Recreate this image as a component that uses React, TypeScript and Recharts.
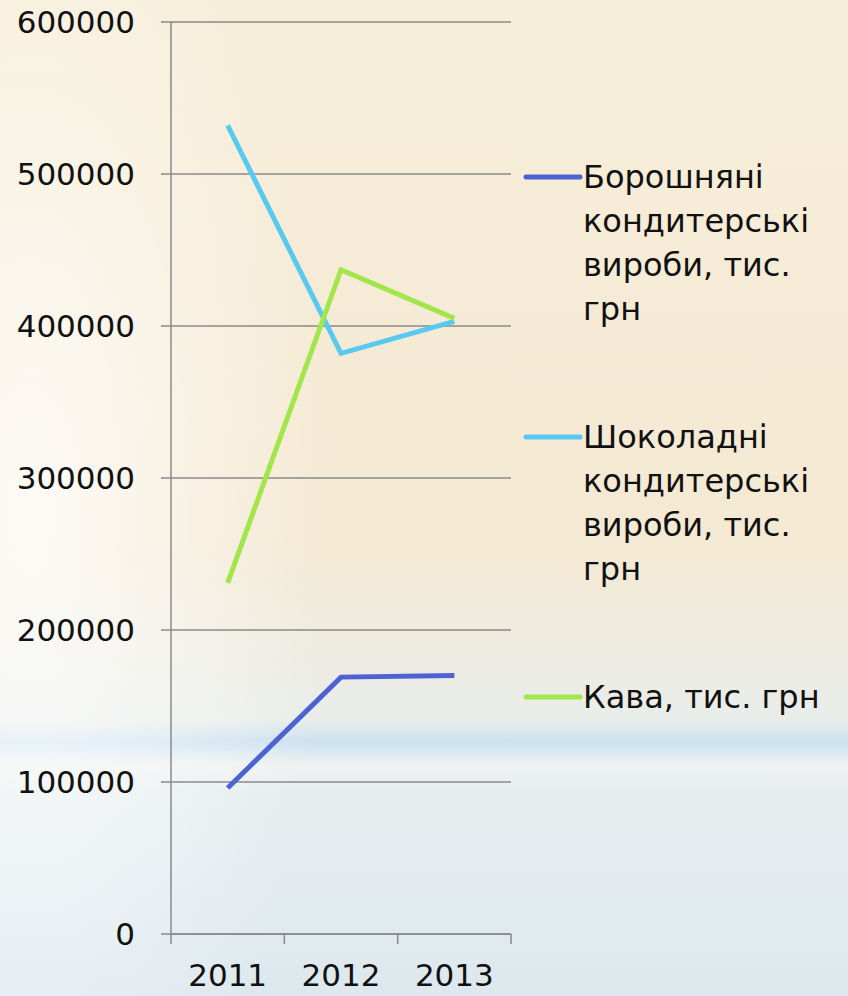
import { LineChart, Line, XAxis, YAxis, CartesianGrid } from 'recharts';

const years = ['2011', '2012', '2013'];
const flour = [96000, 169000, 170000];
const chocolate = [532000, 382000, 403000];
const coffee = [231000, 437000, 405000];
const yTicks = [0, 100000, 200000, 300000, 400000, 500000, 600000];

const series = [
  { key: 'flour', name: 'Борошняні кондитерські вироби, тис. грн', color: '#4d62d3' },
  { key: 'chocolate', name: 'Шоколадні кондитерські вироби, тис. грн', color: '#58c9f1' },
  { key: 'coffee', name: 'Кава, тис. грн', color: '#a3e64b' },
];

const data = years.map((year, i) => ({
  pos: i + 0.5,
  year,
  flour: flour[i],
  chocolate: chocolate[i],
  coffee: coffee[i],
}));

const font = '"DejaVu Sans", sans-serif';

function LegendBox() {
  return (
    <div
      style={{
        position: 'absolute',
        left: 521,
        top: 155,
        width: 327,
        fontFamily: font,
        fontSize: 32,
        color: '#111',
        lineHeight: '44px',
      }}
    >
      {series.map((s) => (
        <div key={s.key} style={{ display: 'flex', alignItems: 'flex-start', height: 260 }}>
          <svg width={62} height={44} style={{ flex: 'none' }}>
            <line x1={5} y1={22} x2={59} y2={22} stroke={s.color} strokeWidth={5} strokeLinecap="round" />
          </svg>
          <div style={{ width: 262 }}>{s.name}</div>
        </div>
      ))}
    </div>
  );
}

export default function App() {
  return (
    <div
      style={{
        position: 'absolute',
        left: 0,
        top: 0,
        width: 848,
        height: 996,
        overflow: 'hidden',
        background:
          'radial-gradient(ellipse 300px 700px at 30px 520px, rgba(255,255,255,0.8), rgba(255,255,255,0) 100%),' +
          'linear-gradient(180deg, rgba(255,255,255,0) 0px, rgba(255,255,255,0) 720px, rgba(196,222,242,0.8) 742px, rgba(255,255,255,0.3) 765px, rgba(255,255,255,0) 795px),' +
          'linear-gradient(180deg, #f7eed9 0%, #f4e9d3 55%, #e9edea 72%, #e4ecef 85%, #dde8ee 100%)',
      }}
    >
      <LineChart width={848} height={996} data={data} margin={{ top: 22, right: 337, bottom: 0, left: 0 }}>
        <CartesianGrid vertical={false} stroke="#8a8a8a" strokeWidth={1.5} />
        <XAxis
          xAxisId="grid"
          dataKey="pos"
          type="number"
          domain={[0, 3]}
          ticks={[0, 1, 2, 3]}
          interval={0}
          tick={() => <g />}
          tickLine={{ stroke: '#8a8a8a', strokeWidth: 1.5 }}
          tickSize={10}
          height={1}
          stroke="#8a8a8a"
          strokeWidth={1.5}
        />
        <XAxis
          xAxisId="labels"
          dataKey="pos"
          type="number"
          domain={[0, 3]}
          ticks={[0.5, 1.5, 2.5]}
          interval={0}
          tickFormatter={(v: number) => years[Math.floor(v)]}
          axisLine={false}
          tickLine={false}
          tickMargin={23}
          height={61}
          tick={{ fontSize: 31, fill: '#111', fontFamily: font }}
        />
        <YAxis
          width={171}
          domain={[0, 600000]}
          ticks={yTicks}
          tickSize={10}
          tickMargin={26}
          stroke="#8a8a8a"
          strokeWidth={1.5}
          tick={{ fontSize: 31, fill: '#111', fontFamily: font }}
        />
        {series.map((s) => (
          <Line
            key={s.key}
            xAxisId="grid"
            dataKey={s.key}
            name={s.name}
            stroke={s.color}
            strokeWidth={5}
            dot={false}
            type="linear"
            isAnimationActive={false}
          />
        ))}
      </LineChart>
      <LegendBox />
    </div>
  );
}
